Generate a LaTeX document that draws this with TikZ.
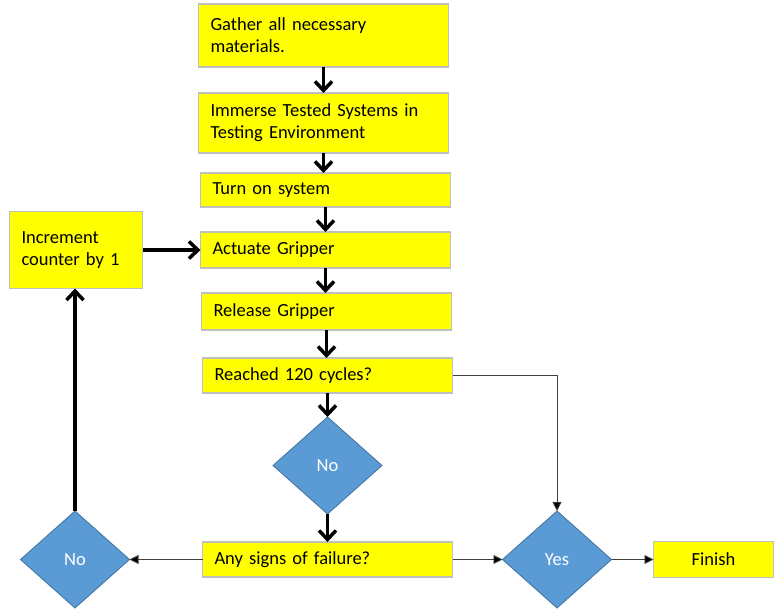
\documentclass[tikz,border=0pt]{standalone}
\usepackage{fontspec}
\setmainfont{Carlito}
\usetikzlibrary{shapes.geometric, positioning, arrows.meta}
\definecolor{stepyellow}{RGB}{255,255,0}
\definecolor{stepedge}{RGB}{191,191,191}
\definecolor{decfill}{RGB}{91,155,213}
\definecolor{decedge}{RGB}{65,113,156}
\tikzset{
        x=1pt, y=-1pt, % one unit is one pixel of the page, y runs downwards
        every node/.style={font=\fontsize{18.5}{21.7}\selectfont, outer sep=0pt}, % same text size everywhere
        stepbox/.style={rectangle, draw=stepedge, line width=1.2pt, fill=stepyellow, text width=226pt, inner xsep=12pt, align=left}, % the yellow steps
        decision/.style={diamond, draw=decedge, line width=0.8pt, fill=decfill, text=white, minimum width=109pt, minimum height=97pt, inner sep=0pt}, % the blue diamonds
        bigarrow/.style={line width=3.5pt, -{Straight Barb[length=9pt,width=17pt]}}, % thick arrows
        thinarrow/.style={line width=0.9pt, draw=black!75, -{Triangle[length=9pt,width=9pt,fill=black]}}, % thin arrows
        }
\begin{document}
\begin{tikzpicture}
        \useasboundingbox (0,0) rectangle (775,609);
        % main column
        \node[stepbox, minimum height=63pt] (gather) at (323.5,35.5) {Gather all necessary\\materials.};
        \node[stepbox, minimum height=60pt, below=26pt of gather] (immerse) {Immerse Tested Systems in\\Testing Environment};
        \node[stepbox, minimum height=34pt, below=20pt of immerse, xshift=2pt] (turnon) {Turn on system};
        \node[stepbox, minimum height=36pt, below=25pt of turnon] (actuate) {Actuate Gripper};
        \node[stepbox, minimum height=37pt, below=25pt of actuate, xshift=1pt] (release) {Release Gripper};
        \node[stepbox, minimum height=35pt, below=28pt of release, xshift=1pt] (reached) {Reached 120 cycles?};
        \node[decision, below=24pt of reached] (nocycles) {No};
        \node[stepbox, minimum height=35pt, below=28pt of nocycles] (failure) {Any signs of failure?};
        % outcomes
        \node[decision, left=73pt of failure] (nofail) {No};
        \node[decision, right=50pt of failure] (yes) {Yes};
        \node[stepbox, text width=96pt, align=center, minimum height=36pt, right=42pt of yes] (finish) {Finish};
        \node[stepbox, text width=109pt, minimum height=77pt, left=58pt of actuate] (increment) {Increment\\counter by 1};

        \draw[bigarrow] (gather) -- (gather |- immerse.north);
        \draw[bigarrow] (immerse) -- (immerse |- turnon.north);
        \draw[bigarrow] (turnon) -- (turnon |- actuate.north);
        \draw[bigarrow] (actuate) -- (actuate |- release.north);
        \draw[bigarrow] (release) -- (release |- reached.north);
        \draw[bigarrow] (reached) -- (nocycles);
        \draw[bigarrow] (nocycles) -- (failure);
        \draw[bigarrow] (increment) -- (actuate);
        \draw[bigarrow] (nofail) -- (nofail |- increment.south);
        \draw[thinarrow] (failure) -- (nofail);
        \draw[thinarrow] (failure) -- (yes);
        \draw[thinarrow] (yes) -- (finish);
        \draw[thinarrow] (reached) -| (yes);
\end{tikzpicture}
\end{document}
